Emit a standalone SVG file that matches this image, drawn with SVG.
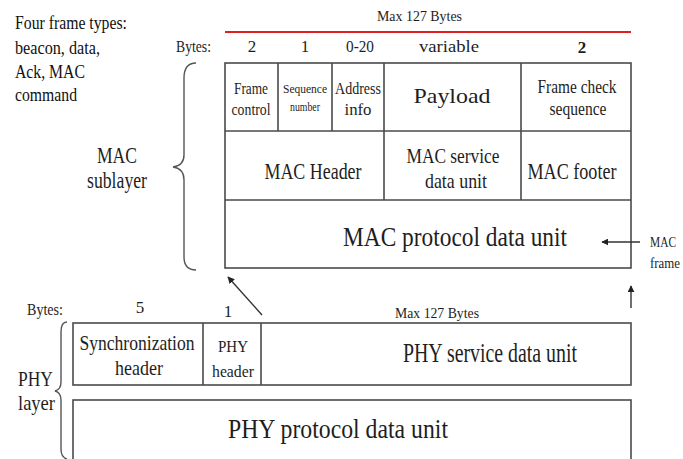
<svg xmlns="http://www.w3.org/2000/svg" width="683" height="459" viewBox="0 0 683 459" font-family="'Liberation Serif', 'DejaVu Serif', serif">
  <style>
    text { font-family: 'Liberation Serif', 'DejaVu Serif', serif; fill: #1e1e1e; }
    .c { text-anchor: middle; }
    .box { fill: #ffffff; stroke: #4a4a4a; stroke-width: 1.6; }
    .div { stroke: #4a4a4a; stroke-width: 1.6; fill: none; }
    .brace { stroke: #555555; stroke-width: 1.4; fill: none; }
    .arrow { stroke: #333333; stroke-width: 1.4; fill: none; marker-end: url(#head); }
    .note { font-size: 18px; fill: #111111; }
  </style>
  <defs>
    <marker id="head" viewBox="0 0 10 10" refX="9" refY="5" markerWidth="7" markerHeight="7" orient="auto" markerUnits="userSpaceOnUse">
      <path d="M0,0 L10,5 L0,10 z" fill="#222222"/>
    </marker>
  </defs>
  <rect width="683" height="459" fill="#ffffff"/>

  <!-- frame type note -->
  <g id="frame-types">
    <text class="note" x="15" y="29" textLength="112" lengthAdjust="spacingAndGlyphs">Four frame types:</text>
    <text class="note" x="15" y="54" textLength="85" lengthAdjust="spacingAndGlyphs">beacon, data,</text>
    <text class="note" x="15" y="78" textLength="70" lengthAdjust="spacingAndGlyphs">Ack, MAC</text>
    <text class="note" x="15" y="101" textLength="62" lengthAdjust="spacingAndGlyphs">command</text>
  </g>

  <!-- MAC frame size header -->
  <g id="mac-size">
    <text x="377" y="21" font-size="15" textLength="85" lengthAdjust="spacingAndGlyphs">Max 127 Bytes</text>
    <line x1="225" y1="32" x2="631" y2="32" stroke="#e02020" stroke-width="2"/>
    <text x="176" y="52" font-size="17" textLength="35" lengthAdjust="spacingAndGlyphs">Bytes:</text>
    <text class="c" x="252" y="52" font-size="17">2</text>
    <text class="c" x="305" y="52" font-size="17">1</text>
    <text class="c" x="360" y="52" font-size="17" textLength="28" lengthAdjust="spacingAndGlyphs">0-20</text>
    <text class="c" x="449" y="52" font-size="17" textLength="60" lengthAdjust="spacingAndGlyphs">variable</text>
    <text class="c" x="582" y="53" font-size="17" font-weight="bold">2</text>
  </g>

  <!-- MAC sublayer brace -->
  <g id="mac-sublayer">
    <path class="brace" d="M196,63 C188,63 184,68 184,78 L184,155 C184,162 180,166 173,167 C180,168 184,172 184,180 L184,257 C184,266 188,270 196,270"/>
    <text class="c" x="117" y="163" font-size="24" textLength="40" lengthAdjust="spacingAndGlyphs">MAC</text>
    <text class="c" x="117" y="188" font-size="24" textLength="60" lengthAdjust="spacingAndGlyphs">sublayer</text>
  </g>

  <!-- MAC frame table -->
  <g id="mac-frame">
    <rect class="box" x="225" y="63" width="406" height="205"/>
    <line class="div" x1="225" y1="131" x2="631" y2="131"/>
    <line class="div" x1="225" y1="200" x2="631" y2="200"/>
    <line class="div" x1="278" y1="63" x2="278" y2="131"/>
    <line class="div" x1="332" y1="63" x2="332" y2="131"/>
    <line class="div" x1="384" y1="63" x2="384" y2="200"/>
    <line class="div" x1="521" y1="63" x2="521" y2="200"/>
  </g>

  <g id="frame-control">
    <text class="c" x="251" y="94" font-size="17" textLength="34" lengthAdjust="spacingAndGlyphs">Frame</text>
    <text class="c" x="251" y="115" font-size="17" textLength="39" lengthAdjust="spacingAndGlyphs">control</text>
  </g>
  <g id="sequence-number">
    <text class="c" x="305" y="93" font-size="12" textLength="44" lengthAdjust="spacingAndGlyphs">Sequence</text>
    <text class="c" x="305" y="111" font-size="12" textLength="30" lengthAdjust="spacingAndGlyphs">number</text>
  </g>
  <g id="address-info">
    <text class="c" x="358" y="94" font-size="17" textLength="46" lengthAdjust="spacingAndGlyphs">Address</text>
    <text class="c" x="358" y="115" font-size="17" textLength="27" lengthAdjust="spacingAndGlyphs">info</text>
  </g>
  <g id="payload">
    <text class="c" x="452" y="103" font-size="22" textLength="77" lengthAdjust="spacingAndGlyphs">Payload</text>
  </g>
  <g id="frame-check-sequence">
    <text class="c" x="577" y="93" font-size="19" textLength="79" lengthAdjust="spacingAndGlyphs">Frame check</text>
    <text class="c" x="578" y="115" font-size="19" textLength="57" lengthAdjust="spacingAndGlyphs">sequence</text>
  </g>
  <g id="mac-header">
    <text class="c" x="313" y="179" font-size="23" textLength="97" lengthAdjust="spacingAndGlyphs">MAC Header</text>
  </g>
  <g id="mac-service-data-unit">
    <text class="c" x="453" y="163" font-size="22" textLength="93" lengthAdjust="spacingAndGlyphs">MAC service</text>
    <text class="c" x="456" y="188" font-size="22" textLength="62" lengthAdjust="spacingAndGlyphs">data unit</text>
  </g>
  <g id="mac-footer">
    <text class="c" x="572" y="179" font-size="23" textLength="89" lengthAdjust="spacingAndGlyphs">MAC footer</text>
  </g>
  <g id="mac-protocol-data-unit">
    <text class="c" x="455" y="246" font-size="28" textLength="224" lengthAdjust="spacingAndGlyphs">MAC protocol data unit</text>
  </g>

  <g id="mac-frame-label">
    <text x="650" y="247" font-size="14" textLength="26" lengthAdjust="spacingAndGlyphs">MAC</text>
    <text x="650" y="268" font-size="14" textLength="30" lengthAdjust="spacingAndGlyphs">frame</text>
  </g>

  <!-- PHY layer -->
  <g id="phy-size">
    <text x="27" y="315" font-size="17" textLength="36" lengthAdjust="spacingAndGlyphs">Bytes:</text>
    <text class="c" x="140" y="313" font-size="17">5</text>
    <text class="c" x="228" y="317" font-size="17">1</text>
    <text x="395" y="318" font-size="15" textLength="84" lengthAdjust="spacingAndGlyphs">Max 127 Bytes</text>
  </g>

  <g id="phy-layer">
    <path class="brace" d="M67,322 C62,322 61,326 61,332 L61,382 C61,387 59,390 55,391 C59,392 61,395 61,400 L61,449 C61,455 63,458 67,459"/>
    <text x="18" y="386" font-size="22" textLength="35" lengthAdjust="spacingAndGlyphs">PHY</text>
    <text x="18" y="410" font-size="22" textLength="37" lengthAdjust="spacingAndGlyphs">layer</text>
  </g>

  <g id="phy-frame">
    <rect class="box" x="73" y="323" width="558" height="62"/>
    <line class="div" x1="203" y1="323" x2="203" y2="385"/>
    <line class="div" x1="261" y1="323" x2="261" y2="385"/>
  </g>
  <g id="sync-header">
    <text class="c" x="137" y="350" font-size="21" textLength="115" lengthAdjust="spacingAndGlyphs">Synchronization</text>
    <text class="c" x="139" y="375" font-size="21" textLength="48" lengthAdjust="spacingAndGlyphs">header</text>
  </g>
  <g id="phy-header">
    <text class="c" x="233" y="352" font-size="17" textLength="30" lengthAdjust="spacingAndGlyphs">PHY</text>
    <text class="c" x="233" y="377" font-size="17" textLength="42" lengthAdjust="spacingAndGlyphs">header</text>
  </g>
  <g id="phy-service-data-unit">
    <text class="c" x="490" y="362" font-size="27" textLength="174" lengthAdjust="spacingAndGlyphs">PHY service data unit</text>
  </g>
  <g id="phy-protocol-data-unit">
    <rect class="box" x="73" y="400" width="558" height="70"/>
    <text class="c" x="338" y="438" font-size="28" textLength="220" lengthAdjust="spacingAndGlyphs">PHY protocol data unit</text>
  </g>

  <!-- connectors -->
  <g id="connectors">
    <line class="arrow" x1="640" y1="242" x2="602" y2="242"/>
    <line class="arrow" x1="262" y1="315" x2="228" y2="277"/>
    <line class="arrow" x1="631" y1="308" x2="631" y2="286"/>
  </g>
</svg>
